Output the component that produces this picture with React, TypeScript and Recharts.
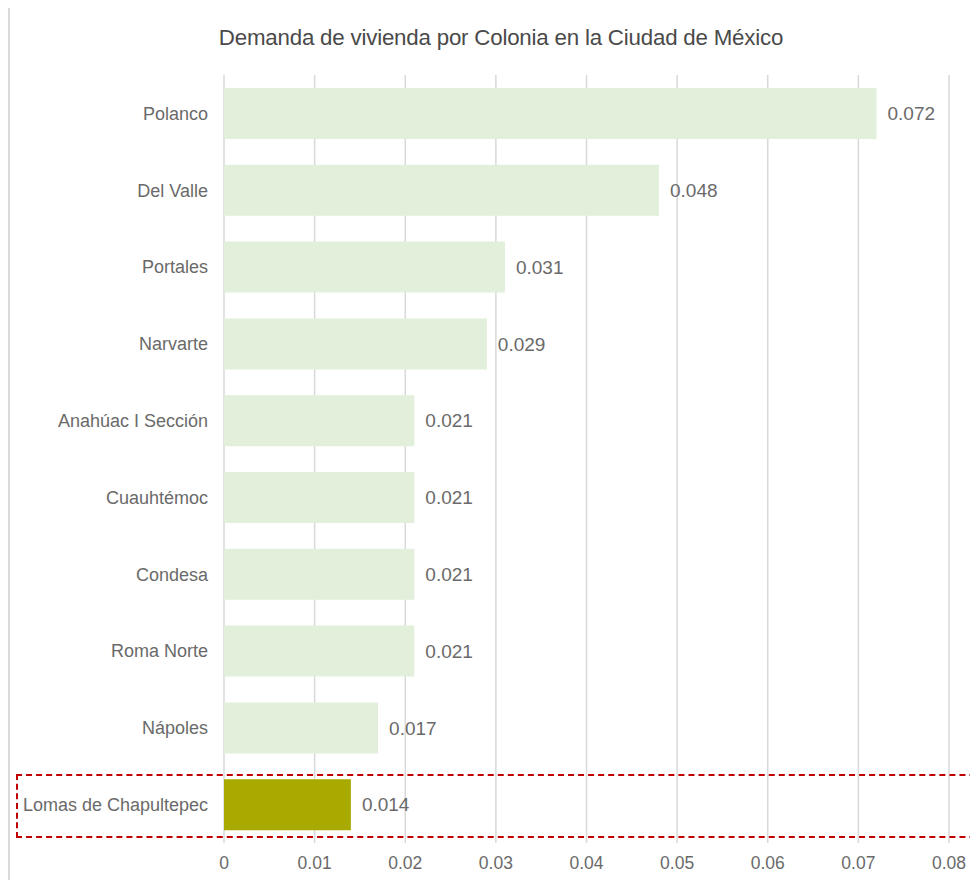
import React from "react";
import { BarChart, Bar, XAxis, YAxis, CartesianGrid, Cell, LabelList } from "recharts";

const categories = [
  "Polanco",
  "Del Valle",
  "Portales",
  "Narvarte",
  "Anahúac I Sección",
  "Cuauhtémoc",
  "Condesa",
  "Roma Norte",
  "Nápoles",
  "Lomas de Chapultepec",
];
const values = [0.072, 0.048, 0.031, 0.029, 0.021, 0.021, 0.021, 0.021, 0.017, 0.014];
const xTicks = [0, 0.01, 0.02, 0.03, 0.04, 0.05, 0.06, 0.07, 0.08];
const highlighted = "Lomas de Chapultepec";
const title = "Demanda de vivienda por Colonia en la Ciudad de México";

const data = categories.map((c, i) => ({ name: c, value: values[i] }));

const FONT = "'Liberation Sans', Arial, sans-serif";
const TXT = "#6a6a6a";

export default function App() {
  return (
    <div style={{ position: "relative", width: 978, height: 888, margin: -8, overflow: "hidden", background: "#fff", fontFamily: FONT }}>
      <div style={{ position: "absolute", left: 8, top: 6, width: 1100, height: 1100, border: "2px solid #d9d9d9", boxSizing: "border-box" }} />
      <div style={{ position: "absolute", left: 0, top: 25, width: 1002, textAlign: "center", fontSize: 22.3, color: "#4a4a4a", fontWeight: 400, letterSpacing: -0.2 }}>
        {title}
      </div>
      <div style={{ position: "absolute", left: 0, top: 0 }}>
        <BarChart
          width={978}
          height={888}
          data={data}
          layout="vertical"
          margin={{ top: 75, right: 29, bottom: 0, left: 0 }}
          barSize={51}
        >
          <CartesianGrid horizontal={false} stroke="#d9d9d9" strokeWidth={1.5} />
          <XAxis
            type="number"
            domain={[0, 0.08]}
            ticks={xTicks}
            interval={0}
            axisLine={false}
            tickLine={false}
            tickSize={0}
            tickMargin={14}
            height={45}
            tick={{ fill: TXT, fontSize: 17.5, fontFamily: FONT }}
          />
          <YAxis
            type="category"
            dataKey="name"
            width={224}
            axisLine={false}
            tickLine={false}
            tickSize={0}
            tickMargin={16}
            interval={0}
            tick={{ fill: TXT, fontSize: 18, fontFamily: FONT }}
          />
          <Bar dataKey="value" isAnimationActive={false}>
            {data.map((d) => (
              <Cell key={d.name} fill={d.name === highlighted ? "#a9aa00" : "#e2efda"} />
            ))}
            <LabelList dataKey="value" position="right" offset={11} fill={TXT} fontSize={19} fontFamily={FONT} />
          </Bar>
        </BarChart>
      </div>
      <div style={{ position: "absolute", left: 16, top: 774, width: 1100, height: 64, border: "2.5px dashed #c00000", boxSizing: "border-box" }} />
    </div>
  );
}
